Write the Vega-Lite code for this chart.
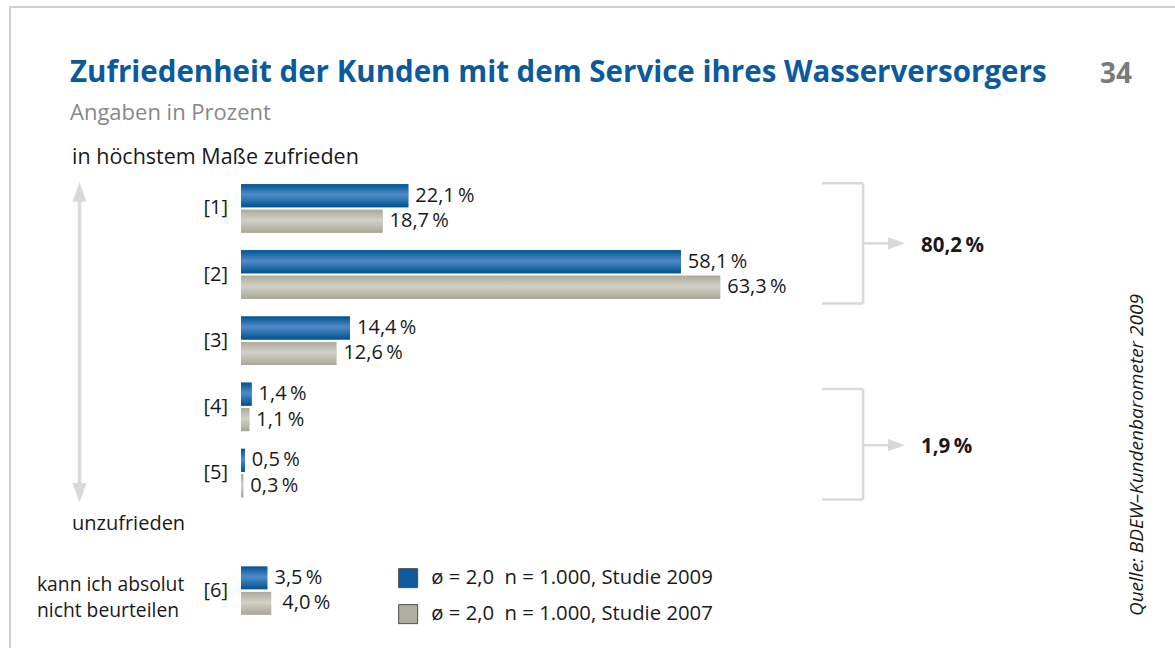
{
  "$schema": "https://vega.github.io/schema/vega-lite/v6.json",
  "width": 1175,
  "height": 650,
  "autosize": {"type": "none"},
  "padding": {"left": 10, "top": 7, "right": 0, "bottom": 0},
  "background": "#ffffff",
  "title": {
    "text": "Zufriedenheit der Kunden mit dem Service ihres Wasserversorgers",
    "subtitle": "Angaben in Prozent",
    "anchor": "start",
    "frame": "group",
    "dx": 60,
    "offset": -118,
    "font": "Open Sans",
    "fontSize": 29.5,
    "fontWeight": "bold",
    "color": "#0a5a9f",
    "subtitleFont": "Open Sans",
    "subtitleFontSize": 22,
    "subtitleColor": "#888888",
    "subtitlePadding": 15
  },
  "config": {
    "view": {"stroke": "#d0d0d0", "strokeWidth": 2},
    "font": "Open Sans",
    "text": {"font": "Open Sans", "color": "#1a1a1a"},
    "legend": {
      "orient": "none",
      "legendX": 388,
      "legendY": 561,
      "padding": 0,
      "symbolType": "square",
      "symbolSize": 361,
      "symbolStrokeColor": "#4d4d4d",
      "symbolStrokeWidth": 1,
      "symbolOpacity": 1,
      "labelFont": "Open Sans",
      "labelFontSize": 20.3,
      "labelColor": "#1a1a1a",
      "labelOffset": 13,
      "labelLimit": 0,
      "rowPadding": 12
    }
  },
  "datasets": {
    "werte": [
      {"kat": "[1]", "stufe": 1, "studie": "2009", "wert": 22.1},
      {"kat": "[1]", "stufe": 1, "studie": "2007", "wert": 18.7},
      {"kat": "[2]", "stufe": 2, "studie": "2009", "wert": 58.1},
      {"kat": "[2]", "stufe": 2, "studie": "2007", "wert": 63.3},
      {"kat": "[3]", "stufe": 3, "studie": "2009", "wert": 14.4},
      {"kat": "[3]", "stufe": 3, "studie": "2007", "wert": 12.6},
      {"kat": "[4]", "stufe": 4, "studie": "2009", "wert": 1.4},
      {"kat": "[4]", "stufe": 4, "studie": "2007", "wert": 1.1},
      {"kat": "[5]", "stufe": 5, "studie": "2009", "wert": 0.5},
      {"kat": "[5]", "stufe": 5, "studie": "2007", "wert": 0.3},
      {"kat": "[6]", "stufe": null, "studie": "2009", "wert": 3.5},
      {"kat": "[6]", "stufe": null, "studie": "2007", "wert": 4.0}
    ]
  },
  "layer": [
    {
      "data": {"name": "werte"},
      "transform": [{"filter": "datum.stufe != null && datum.studie == '2009'"}],
      "mark": {"type": "bar", "orient": "horizontal", "size": 23, "yOffset": -12.8},
      "encoding": {
        "x": {"field": "wert", "type": "quantitative", "axis": null, "scale": {"domain": [-30.515, 124.70], "nice": false, "zero": false}},
        "x2": {"datum": 0},
        "y": {"field": "stufe", "type": "quantitative", "axis": null, "scale": {"domain": [-1.9688, 7.7038], "nice": false, "zero": false, "reverse": true}},
        "color": {"field": "studie", "type": "nominal", "scale": {"domain": ["2009", "2007"], "range": ["#0f5a9b", "#b0aea1"]}, "legend": {"title": null, "labelExpr": "'ø = 2,0\u00a0\u00a0n = 1.000, Studie ' + datum.label"}}
      }
    },
    {
      "data": {"name": "werte"},
      "transform": [{"filter": "datum.stufe != null && datum.studie == '2007'"}],
      "mark": {"type": "bar", "orient": "horizontal", "size": 23, "yOffset": 12.7},
      "encoding": {
        "x": {"field": "wert", "type": "quantitative", "axis": null, "scale": {"domain": [-30.515, 124.70], "nice": false, "zero": false}},
        "x2": {"datum": 0},
        "y": {"field": "stufe", "type": "quantitative", "axis": null, "scale": {"domain": [-1.9688, 7.7038], "nice": false, "zero": false, "reverse": true}},
        "color": {"field": "studie", "type": "nominal", "scale": {"domain": ["2009", "2007"], "range": ["#0f5a9b", "#b0aea1"]}, "legend": {"title": null, "labelExpr": "'ø = 2,0\u00a0\u00a0n = 1.000, Studie ' + datum.label"}}
      }
    },
    {
      "data": {"name": "werte"},
      "transform": [{"filter": "datum.stufe != null && datum.studie == '2009'"}],
      "mark": {"type": "bar", "orient": "horizontal", "size": 23, "yOffset": -12.8,
        "color": {"gradient": "linear", "x1": 0, "y1": 0, "x2": 0, "y2": 1, "stops": [{"offset": 0, "color": "#005293"}, {"offset": 0.45, "color": "#4d8cc6"}, {"offset": 0.55, "color": "#4283bf"}, {"offset": 1, "color": "#00528f"}]}},
      "encoding": {
        "x": {"field": "wert", "type": "quantitative", "axis": null, "scale": {"domain": [-30.515, 124.70], "nice": false, "zero": false}},
        "x2": {"datum": 0},
        "y": {"field": "stufe", "type": "quantitative", "axis": null, "scale": {"domain": [-1.9688, 7.7038], "nice": false, "zero": false, "reverse": true}}
      }
    },
    {
      "data": {"name": "werte"},
      "transform": [{"filter": "datum.stufe != null && datum.studie == '2007'"}],
      "mark": {"type": "bar", "orient": "horizontal", "size": 23, "yOffset": 12.7,
        "color": {"gradient": "linear", "x1": 0, "y1": 0, "x2": 0, "y2": 1, "stops": [{"offset": 0, "color": "#aba99a"}, {"offset": 0.45, "color": "#d2d1c7"}, {"offset": 0.55, "color": "#cbcabf"}, {"offset": 1, "color": "#a9a798"}]}},
      "encoding": {
        "x": {"field": "wert", "type": "quantitative", "axis": null, "scale": {"domain": [-30.515, 124.70], "nice": false, "zero": false}},
        "x2": {"datum": 0},
        "y": {"field": "stufe", "type": "quantitative", "axis": null, "scale": {"domain": [-1.9688, 7.7038], "nice": false, "zero": false, "reverse": true}}
      }
    },
    {
      "data": {"name": "werte"},
      "transform": [{"filter": "datum.kat == '[6]' && datum.studie == '2009'"}],
      "mark": {"type": "bar", "orient": "horizontal", "size": 23, "yOffset": -12.8,
        "color": {"gradient": "linear", "x1": 0, "y1": 0, "x2": 0, "y2": 1, "stops": [{"offset": 0, "color": "#005293"}, {"offset": 0.45, "color": "#4d8cc6"}, {"offset": 0.55, "color": "#4283bf"}, {"offset": 1, "color": "#00528f"}]}},
      "encoding": {
        "x": {"field": "wert", "type": "quantitative", "axis": null, "scale": {"domain": [-30.515, 124.70], "nice": false, "zero": false}},
        "x2": {"datum": 0},
        "y": {"datum": 6.7767, "type": "quantitative", "axis": null, "scale": {"domain": [-1.9688, 7.7038], "nice": false, "zero": false, "reverse": true}}
      }
    },
    {
      "data": {"name": "werte"},
      "transform": [{"filter": "datum.kat == '[6]' && datum.studie == '2007'"}],
      "mark": {"type": "bar", "orient": "horizontal", "size": 23, "yOffset": 12.7,
        "color": {"gradient": "linear", "x1": 0, "y1": 0, "x2": 0, "y2": 1, "stops": [{"offset": 0, "color": "#aba99a"}, {"offset": 0.45, "color": "#d2d1c7"}, {"offset": 0.55, "color": "#cbcabf"}, {"offset": 1, "color": "#a9a798"}]}},
      "encoding": {
        "x": {"field": "wert", "type": "quantitative", "axis": null, "scale": {"domain": [-30.515, 124.70], "nice": false, "zero": false}},
        "x2": {"datum": 0},
        "y": {"datum": 6.7767, "type": "quantitative", "axis": null, "scale": {"domain": [-1.9688, 7.7038], "nice": false, "zero": false, "reverse": true}}
      }
    },
    {
      "data": {"name": "werte"},
      "transform": [
        {"filter": "datum.stufe != null && datum.studie == '2009'"},
        {"calculate": "replace(format(datum.wert, '.1f'), '.', ',') + '\u2009%'", "as": "label"}
      ],
      "mark": {"type": "text", "align": "left", "baseline": "middle", "dx": 7, "yOffset": -12.8, "fontSize": 20},
      "encoding": {
        "x": {"field": "wert", "type": "quantitative", "axis": null, "scale": {"domain": [-30.515, 124.70], "nice": false, "zero": false}},
        "y": {"field": "stufe", "type": "quantitative", "axis": null, "scale": {"domain": [-1.9688, 7.7038], "nice": false, "zero": false, "reverse": true}},
        "text": {"field": "label"}
      }
    },
    {
      "data": {"name": "werte"},
      "transform": [
        {"filter": "datum.stufe != null && datum.studie == '2007'"},
        {"calculate": "replace(format(datum.wert, '.1f'), '.', ',') + '\u2009%'", "as": "label"}
      ],
      "mark": {"type": "text", "align": "left", "baseline": "middle", "dx": 7, "yOffset": 12.7, "fontSize": 20},
      "encoding": {
        "x": {"field": "wert", "type": "quantitative", "axis": null, "scale": {"domain": [-30.515, 124.70], "nice": false, "zero": false}},
        "y": {"field": "stufe", "type": "quantitative", "axis": null, "scale": {"domain": [-1.9688, 7.7038], "nice": false, "zero": false, "reverse": true}},
        "text": {"field": "label"}
      }
    },
    {
      "data": {"name": "werte"},
      "transform": [
        {"filter": "datum.kat == '[6]' && datum.studie == '2009'"},
        {"calculate": "replace(format(datum.wert, '.1f'), '.', ',') + '\u2009%'", "as": "label"}
      ],
      "mark": {"type": "text", "align": "left", "baseline": "middle", "dx": 7, "yOffset": -12.8, "fontSize": 20},
      "encoding": {
        "x": {"field": "wert", "type": "quantitative", "axis": null, "scale": {"domain": [-30.515, 124.70], "nice": false, "zero": false}},
        "y": {"datum": 6.7767, "type": "quantitative", "axis": null, "scale": {"domain": [-1.9688, 7.7038], "nice": false, "zero": false, "reverse": true}},
        "text": {"field": "label"}
      }
    },
    {
      "data": {"name": "werte"},
      "transform": [
        {"filter": "datum.kat == '[6]' && datum.studie == '2007'"},
        {"calculate": "replace(format(datum.wert, '.1f'), '.', ',') + '\u2009%'", "as": "label"}
      ],
      "mark": {"type": "text", "align": "left", "baseline": "middle", "dx": 11, "yOffset": 12.7, "fontSize": 20},
      "encoding": {
        "x": {"field": "wert", "type": "quantitative", "axis": null, "scale": {"domain": [-30.515, 124.70], "nice": false, "zero": false}},
        "y": {"datum": 6.7767, "type": "quantitative", "axis": null, "scale": {"domain": [-1.9688, 7.7038], "nice": false, "zero": false, "reverse": true}},
        "text": {"field": "label"}
      }
    },
    {
      "data": {"name": "werte"},
      "transform": [{"filter": "datum.stufe != null && datum.studie == '2009'"}],
      "mark": {"type": "text", "align": "right", "baseline": "middle", "fontSize": 20},
      "encoding": {
        "x": {"datum": -1.72, "type": "quantitative", "axis": null, "scale": {"domain": [-30.515, 124.70], "nice": false, "zero": false}},
        "y": {"field": "stufe", "type": "quantitative", "axis": null, "scale": {"domain": [-1.9688, 7.7038], "nice": false, "zero": false, "reverse": true}},
        "text": {"field": "kat"}
      }
    },
    {
      "data": {"name": "werte"},
      "transform": [{"filter": "datum.kat == '[6]' && datum.studie == '2009'"}],
      "mark": {"type": "text", "align": "right", "baseline": "middle", "fontSize": 20},
      "encoding": {
        "x": {"datum": -1.72, "type": "quantitative", "axis": null, "scale": {"domain": [-30.515, 124.70], "nice": false, "zero": false}},
        "y": {"datum": 6.7767, "type": "quantitative", "axis": null, "scale": {"domain": [-1.9688, 7.7038], "nice": false, "zero": false, "reverse": true}},
        "text": {"field": "kat"}
      }
    },
    {
      "data": {"values": [{}]},
      "mark": {"type": "text", "align": "left", "baseline": "middle", "fontSize": 19.3, "lineHeight": 26, "text": ["kann ich absolut", "nicht beurteilen"]},
      "encoding": {
        "x": {"datum": -26.95, "type": "quantitative", "axis": null, "scale": {"domain": [-30.515, 124.70], "nice": false, "zero": false}},
        "y": {"datum": 6.6845, "type": "quantitative", "axis": null, "scale": {"domain": [-1.9688, 7.7038], "nice": false, "zero": false, "reverse": true}}
      }
    },
    {
      "data": {"values": [{}]},
      "mark": {"type": "text", "align": "left", "baseline": "middle", "fontSize": 21.5, "text": "in höchstem Maße zufrieden"},
      "encoding": {
        "x": {"datum": -22.32, "type": "quantitative", "axis": null, "scale": {"domain": [-30.515, 124.70], "nice": false, "zero": false}},
        "y": {"datum": 0.2336, "type": "quantitative", "axis": null, "scale": {"domain": [-1.9688, 7.7038], "nice": false, "zero": false, "reverse": true}}
      }
    },
    {
      "data": {"values": [{}]},
      "mark": {"type": "text", "align": "left", "baseline": "middle", "fontSize": 20, "text": "unzufrieden"},
      "encoding": {
        "x": {"datum": -22.32, "type": "quantitative", "axis": null, "scale": {"domain": [-30.515, 124.70], "nice": false, "zero": false}},
        "y": {"datum": 5.7693, "type": "quantitative", "axis": null, "scale": {"domain": [-1.9688, 7.7038], "nice": false, "zero": false, "reverse": true}}
      }
    },
    {
      "data": {"values": [{}]},
      "mark": {"type": "rule", "color": "#d9d9d9", "strokeWidth": 3.5},
      "encoding": {
        "x": {"datum": -21.33, "type": "quantitative", "axis": null, "scale": {"domain": [-30.515, 124.70], "nice": false, "zero": false}},
        "y": {"datum": 0.80, "type": "quantitative", "axis": null, "scale": {"domain": [-1.9688, 7.7038], "nice": false, "zero": false, "reverse": true}},
        "y2": {"datum": 5.25}
      }
    },
    {
      "data": {"values": [{}]},
      "mark": {"type": "point", "filled": true, "opacity": 1, "color": "#d9d9d9", "size": 380, "shape": "M-0.72,1L0,-1L0.72,1Z"},
      "encoding": {
        "x": {"datum": -21.33, "type": "quantitative", "axis": null, "scale": {"domain": [-30.515, 124.70], "nice": false, "zero": false}},
        "y": {"datum": 0.7507, "type": "quantitative", "axis": null, "scale": {"domain": [-1.9688, 7.7038], "nice": false, "zero": false, "reverse": true}}
      }
    },
    {
      "data": {"values": [{}]},
      "mark": {"type": "point", "filled": true, "opacity": 1, "color": "#d9d9d9", "size": 380, "shape": "M-0.72,-1L0,1L0.72,-1Z"},
      "encoding": {
        "x": {"datum": -21.33, "type": "quantitative", "axis": null, "scale": {"domain": [-30.515, 124.70], "nice": false, "zero": false}},
        "y": {"datum": 5.2968, "type": "quantitative", "axis": null, "scale": {"domain": [-1.9688, 7.7038], "nice": false, "zero": false, "reverse": true}}
      }
    },
    {
      "data": {"values": [{}]},
      "mark": {"type": "rule", "color": "#d9d9d9", "strokeWidth": 2.5},
      "encoding": {
        "x": {"datum": 76.75, "type": "quantitative", "axis": null, "scale": {"domain": [-30.515, 124.70], "nice": false, "zero": false}},
        "x2": {"datum": 82.17},
        "y": {"datum": 0.6205, "type": "quantitative", "axis": null, "scale": {"domain": [-1.9688, 7.7038], "nice": false, "zero": false, "reverse": true}}
      }
    },
    {
      "data": {"values": [{}]},
      "mark": {"type": "rule", "color": "#d9d9d9", "strokeWidth": 2.5},
      "encoding": {
        "x": {"datum": 76.75, "type": "quantitative", "axis": null, "scale": {"domain": [-30.515, 124.70], "nice": false, "zero": false}},
        "x2": {"datum": 82.17},
        "y": {"datum": 2.436, "type": "quantitative", "axis": null, "scale": {"domain": [-1.9688, 7.7038], "nice": false, "zero": false, "reverse": true}}
      }
    },
    {
      "data": {"values": [{}]},
      "mark": {"type": "rule", "color": "#d9d9d9", "strokeWidth": 2.5},
      "encoding": {
        "x": {"datum": 82.17, "type": "quantitative", "axis": null, "scale": {"domain": [-30.515, 124.70], "nice": false, "zero": false}},
        "y": {"datum": 0.6205, "type": "quantitative", "axis": null, "scale": {"domain": [-1.9688, 7.7038], "nice": false, "zero": false, "reverse": true}},
        "y2": {"datum": 2.436}
      }
    },
    {
      "data": {"values": [{}]},
      "mark": {"type": "rule", "color": "#d9d9d9", "strokeWidth": 2.5},
      "encoding": {
        "x": {"datum": 82.17, "type": "quantitative", "axis": null, "scale": {"domain": [-30.515, 124.70], "nice": false, "zero": false}},
        "x2": {"datum": 85.73},
        "y": {"datum": 1.528, "type": "quantitative", "axis": null, "scale": {"domain": [-1.9688, 7.7038], "nice": false, "zero": false, "reverse": true}}
      }
    },
    {
      "data": {"values": [{}]},
      "mark": {"type": "point", "filled": true, "opacity": 1, "color": "#d9d9d9", "size": 289, "shape": "M-1,-0.72L1,0L-1,0.72Z"},
      "encoding": {
        "x": {"datum": 86.59, "type": "quantitative", "axis": null, "scale": {"domain": [-30.515, 124.70], "nice": false, "zero": false}},
        "y": {"datum": 1.528, "type": "quantitative", "axis": null, "scale": {"domain": [-1.9688, 7.7038], "nice": false, "zero": false, "reverse": true}}
      }
    },
    {
      "data": {"values": [{}]},
      "mark": {"type": "text", "align": "left", "baseline": "middle", "fontSize": 20.5, "fontWeight": "bold", "text": "80,2\u2009%"},
      "encoding": {
        "x": {"datum": 89.83, "type": "quantitative", "axis": null, "scale": {"domain": [-30.515, 124.70], "nice": false, "zero": false}},
        "y": {"datum": 1.573, "type": "quantitative", "axis": null, "scale": {"domain": [-1.9688, 7.7038], "nice": false, "zero": false, "reverse": true}}
      }
    },
    {
      "data": {"values": [{}]},
      "mark": {"type": "rule", "color": "#d9d9d9", "strokeWidth": 2.5},
      "encoding": {
        "x": {"datum": 76.75, "type": "quantitative", "axis": null, "scale": {"domain": [-30.515, 124.70], "nice": false, "zero": false}},
        "x2": {"datum": 82.17},
        "y": {"datum": 3.7306, "type": "quantitative", "axis": null, "scale": {"domain": [-1.9688, 7.7038], "nice": false, "zero": false, "reverse": true}}
      }
    },
    {
      "data": {"values": [{}]},
      "mark": {"type": "rule", "color": "#d9d9d9", "strokeWidth": 2.5},
      "encoding": {
        "x": {"datum": 76.75, "type": "quantitative", "axis": null, "scale": {"domain": [-30.515, 124.70], "nice": false, "zero": false}},
        "x2": {"datum": 82.17},
        "y": {"datum": 5.3973, "type": "quantitative", "axis": null, "scale": {"domain": [-1.9688, 7.7038], "nice": false, "zero": false, "reverse": true}}
      }
    },
    {
      "data": {"values": [{}]},
      "mark": {"type": "rule", "color": "#d9d9d9", "strokeWidth": 2.5},
      "encoding": {
        "x": {"datum": 82.17, "type": "quantitative", "axis": null, "scale": {"domain": [-30.515, 124.70], "nice": false, "zero": false}},
        "y": {"datum": 3.7306, "type": "quantitative", "axis": null, "scale": {"domain": [-1.9688, 7.7038], "nice": false, "zero": false, "reverse": true}},
        "y2": {"datum": 5.3973}
      }
    },
    {
      "data": {"values": [{}]},
      "mark": {"type": "rule", "color": "#d9d9d9", "strokeWidth": 2.5},
      "encoding": {
        "x": {"datum": 82.17, "type": "quantitative", "axis": null, "scale": {"domain": [-30.515, 124.70], "nice": false, "zero": false}},
        "x2": {"datum": 85.73},
        "y": {"datum": 4.5788, "type": "quantitative", "axis": null, "scale": {"domain": [-1.9688, 7.7038], "nice": false, "zero": false, "reverse": true}}
      }
    },
    {
      "data": {"values": [{}]},
      "mark": {"type": "point", "filled": true, "opacity": 1, "color": "#d9d9d9", "size": 289, "shape": "M-1,-0.72L1,0L-1,0.72Z"},
      "encoding": {
        "x": {"datum": 86.59, "type": "quantitative", "axis": null, "scale": {"domain": [-30.515, 124.70], "nice": false, "zero": false}},
        "y": {"datum": 4.5788, "type": "quantitative", "axis": null, "scale": {"domain": [-1.9688, 7.7038], "nice": false, "zero": false, "reverse": true}}
      }
    },
    {
      "data": {"values": [{}]},
      "mark": {"type": "text", "align": "left", "baseline": "middle", "fontSize": 20.5, "fontWeight": "bold", "text": "1,9\u2009%"},
      "encoding": {
        "x": {"datum": 89.83, "type": "quantitative", "axis": null, "scale": {"domain": [-30.515, 124.70], "nice": false, "zero": false}},
        "y": {"datum": 4.6086, "type": "quantitative", "axis": null, "scale": {"domain": [-1.9688, 7.7038], "nice": false, "zero": false, "reverse": true}}
      }
    },
    {
      "data": {"values": [{}]},
      "mark": {"type": "text", "align": "center", "baseline": "middle", "angle": 270, "fontSize": 19, "fontStyle": "italic", "text": "Quelle: BDEW–Kundenbarometer 2009"},
      "encoding": {
        "x": {"datum": 118.36, "type": "quantitative", "axis": null, "scale": {"domain": [-30.515, 124.70], "nice": false, "zero": false}},
        "y": {"datum": 4.7276, "type": "quantitative", "axis": null, "scale": {"domain": [-1.9688, 7.7038], "nice": false, "zero": false, "reverse": true}}
      }
    },
    {
      "data": {"values": [{}]},
      "mark": {"type": "text", "align": "left", "baseline": "middle", "fontSize": 28, "fontWeight": "bold", "color": "#7a7a7a", "text": "34"},
      "encoding": {
        "x": {"datum": 113.47, "type": "quantitative", "axis": null, "scale": {"domain": [-30.515, 124.70], "nice": false, "zero": false}},
        "y": {"datum": -1.0164, "type": "quantitative", "axis": null, "scale": {"domain": [-1.9688, 7.7038], "nice": false, "zero": false, "reverse": true}}
      }
    }
  ]
}
